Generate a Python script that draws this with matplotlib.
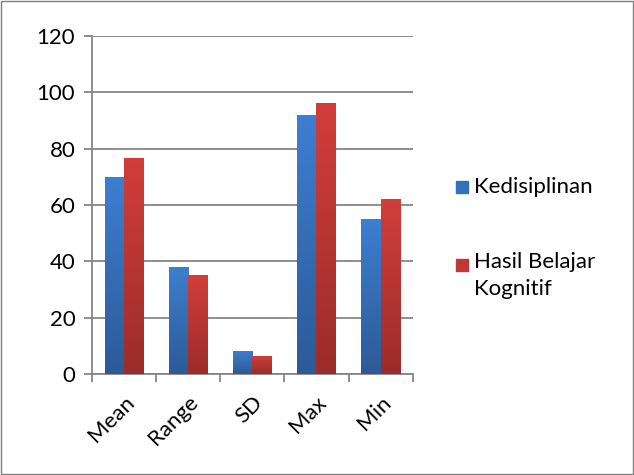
import numpy as np
import matplotlib.pyplot as plt
from matplotlib.patches import Rectangle

categories = ['Mean', 'Range', 'SD', 'Max', 'Min']
kedisiplinan = [70, 38, 8.2, 92, 55]
hasil_belajar = [76.7, 35.1, 6.4, 96.2, 62.1]
series_names = ['Kedisiplinan', 'Hasil Belajar\nKognitif']

plt.rcParams['font.family'] = ['Lato', 'DejaVu Sans']

fig = plt.figure(figsize=(6.34, 4.75), dpi=100)
ax = fig.add_axes([0.145, 0.2126, 0.506, 0.712])

x = np.arange(len(categories))
w = 0.3
grad = np.linspace(0, 1, 256).reshape(-1, 1)


def gradient_bars(xs, vals, top, bottom):
    bars = ax.bar(xs, vals, w, color=top, zorder=2)
    cmap = plt.matplotlib.colors.LinearSegmentedColormap.from_list('g', [bottom, top])
    for b in bars:
        x0, y0 = b.get_x(), b.get_y()
        im = ax.imshow(grad, cmap=cmap, aspect='auto', origin='lower',
                       extent=[x0, x0 + b.get_width(), y0, y0 + b.get_height()], zorder=3)
        im.set_clip_path(b)
    return bars


gradient_bars(x - w / 2, kedisiplinan, '#3d7fd1', '#2c5a96')
gradient_bars(x + w / 2, hasil_belajar, '#d23e3b', '#9b2c29')

ax.set_xlim(-0.5, len(categories) - 0.5)
ax.set_ylim(0, 120)
ax.set_yticks(range(0, 121, 20))
ax.set_xticks(np.arange(-0.5, len(categories), 1.0), minor=False)
ax.set_xticklabels([])
ax.set_xticks(x, minor=True)
ax.set_xticklabels(categories, minor=True, rotation=45, ha='right',
                   rotation_mode='anchor', fontsize=16)
ax.tick_params(axis='x', which='minor', length=0, pad=13)
ax.tick_params(axis='x', which='major', length=6, color='#868686', width=1.3)
ax.tick_params(axis='y', length=6, color='#868686', width=1.3, labelsize=16, pad=6)

ax.grid(axis='y', color='#868686', linewidth=1.3, zorder=0)
ax.set_axisbelow(True)
for s in ['top', 'right']:
    ax.spines[s].set_visible(False)
for s in ['left', 'bottom']:
    ax.spines[s].set_color('#868686')
    ax.spines[s].set_linewidth(1.3)

# legend
fig.add_artist(Rectangle((456 / 634, 1 - 193 / 475), 12 / 634, 12 / 475,
                         transform=fig.transFigure, color='#3470bd'))
fig.text(474 / 634, 1 - 187 / 475, series_names[0], fontsize=16, va='center')
fig.add_artist(Rectangle((456 / 634, 1 - 271 / 475), 12 / 634, 12 / 475,
                         transform=fig.transFigure, color='#c03835'))
fig.text(474 / 634, 1 - 252 / 475, series_names[1], fontsize=16, va='top',
         linespacing=1.45)

# outer border
fig.add_artist(Rectangle((0.002, 0.002), 0.996, 0.996, transform=fig.transFigure,
                         fill=False, edgecolor='#7f7f7f', linewidth=1))

fig.savefig('out.png', dpi=100)
